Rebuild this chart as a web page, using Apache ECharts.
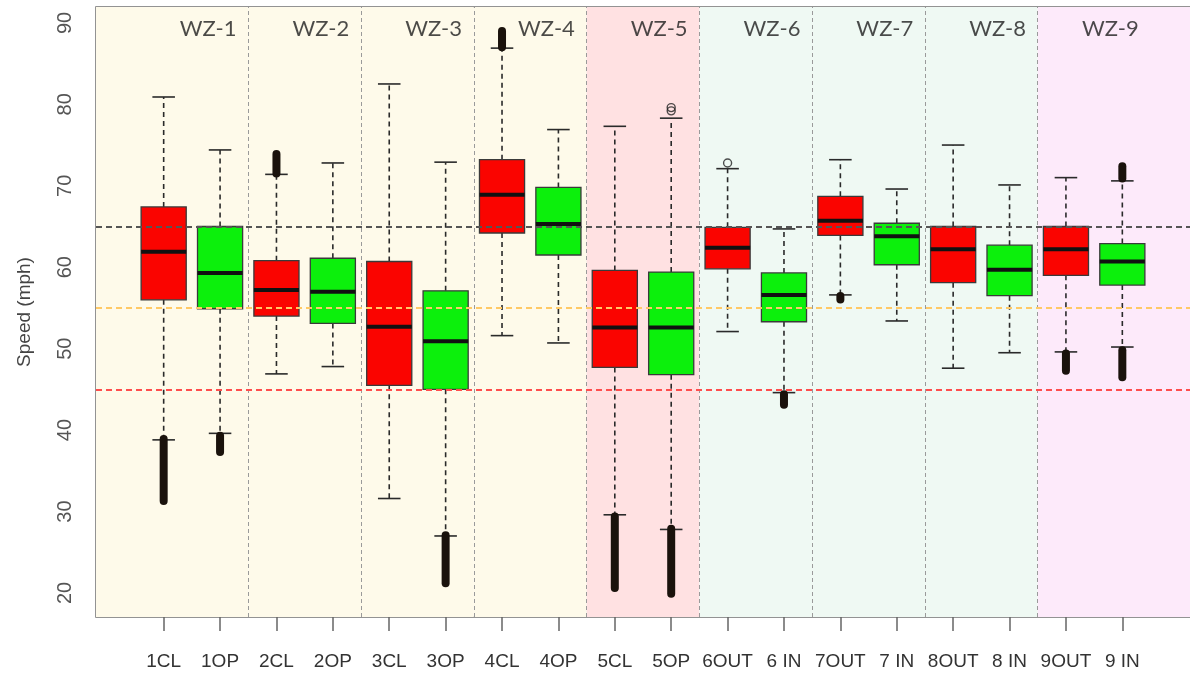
<!DOCTYPE html>
<html>
<head>
<meta charset="utf-8">
<script src="https://cdn.jsdelivr.net/npm/echarts@6/dist/echarts.min.js"></script>
<style>
  html, body { margin: 0; padding: 0; background: #ffffff; }
  #chart { width: 1190px; height: 673px; }
</style>
</head>
<body>
<div id="chart"></div>
<script>
// Site / direction categories along the x axis
const categories = ['1CL', '1OP', '2CL', '2OP', '3CL', '3OP', '4CL', '4OP', '5CL', '5OP',
                    '6OUT', '6 IN', '7OUT', '7 IN', '8OUT', '8 IN', '9OUT', '9 IN'];

// Box statistics per category (mph)
const lowerWhisker = [38.8, 39.6, 46.9, 47.8, 31.6, 27.0, 51.6, 50.7, 29.6, 27.8, 52.1, 44.6, 56.6, 53.4, 47.6, 49.5, 49.6, 50.2];
const quartile1    = [56.0, 54.9, 54.0, 53.1, 45.5, 45.0, 64.2, 61.5, 47.7, 46.8, 59.8, 53.3, 63.9, 60.3, 58.1, 56.5, 59.0, 57.8];
const medians      = [61.9, 59.3, 57.2, 57.0, 52.7, 50.9, 68.9, 65.3, 52.6, 52.6, 62.4, 56.6, 65.7, 63.8, 62.2, 59.7, 62.2, 60.7];
const quartile3    = [67.4, 65.0, 60.8, 61.1, 60.7, 57.1, 73.2, 69.8, 59.6, 59.4, 64.9, 59.3, 68.7, 65.4, 65.0, 62.7, 65.0, 62.9];
const upperWhisker = [80.9, 74.4, 71.4, 72.8, 82.5, 72.9, 86.9, 76.9, 77.3, 78.3, 72.1, 64.7, 73.2, 69.6, 75.0, 70.1, 71.0, 70.6];

// Densely packed outliers: [category, highest, lowest]
const outlierRuns = [
  ['1CL', 38.9, 31.3], ['1OP', 39.3, 37.3], ['2CL', 73.9, 71.5], ['3OP', 27.1, 21.2],
  ['4CL', 89.0, 87.0], ['5CL', 29.4, 20.6], ['5OP', 27.9, 19.9], ['6 IN', 44.4, 43.1],
  ['7OUT', 56.45, 56.05], ['9OUT', 49.4, 47.3], ['9 IN', 72.4, 70.9], ['9 IN', 49.8, 46.5]
];
// Single outliers: [category, value]
const outlierPoints = [['5OP', 79.2], ['5OP', 79.6], ['6OUT', 72.8]];

// Work zones, each spanning two categories
const zoneNames  = ['WZ-1', 'WZ-2', 'WZ-3', 'WZ-4', 'WZ-5', 'WZ-6', 'WZ-7', 'WZ-8', 'WZ-9'];
const zoneColors = ['#fefaea', '#fefaea', '#fefaea', '#fefaea', '#ffe1e2', '#eff9f3', '#eff9f3', '#eff9f3', '#fdeafa'];

// Reference speeds
const refLines = [
  { value: 65, color: '#555555' },
  { value: 55, color: '#ffc966' },
  { value: 45, color: '#ff4d4d' }
];
const yTicks = [20, 30, 40, 50, 60, 70, 80, 90];

const X_MIN = -0.2, X_MAX = 19.2;
const Y_MIN = 17.05, Y_MAX = 91.95;
const ZONE_LABEL_Y = 89.2;
const BOX_WIDTH = 0.8, CAP_WIDTH = 0.4;
const RED = '#fa0400', GREEN = '#0cf00c';

const catIndex = name => categories.indexOf(name) + 1;

const boxData = categories.map((c, i) =>
  [i + 1, lowerWhisker[i], quartile1[i], medians[i], quartile3[i], upperWhisker[i]]);

function renderBox(params, api) {
  const x = api.value(0);
  const pLo = api.coord([x, api.value(1)]);
  const pQ1 = api.coord([x, api.value(2)]);
  const pMd = api.coord([x, api.value(3)]);
  const pQ3 = api.coord([x, api.value(4)]);
  const pHi = api.coord([x, api.value(5)]);
  const hb = api.size([BOX_WIDTH, 0])[0] / 2;
  const hc = api.size([CAP_WIDTH, 0])[0] / 2;
  const cx = pLo[0];
  const fill = params.dataIndex % 2 === 0 ? RED : GREEN;
  const whisker = { stroke: '#2a2a2a', lineWidth: 1.6, lineDash: [5, 4] };
  const cap = { stroke: '#2a2a2a', lineWidth: 1.6 };
  return {
    type: 'group',
    children: [
      { type: 'line', shape: { x1: cx, y1: pQ3[1], x2: cx, y2: pHi[1] }, style: whisker },
      { type: 'line', shape: { x1: cx, y1: pQ1[1], x2: cx, y2: pLo[1] }, style: whisker },
      { type: 'line', shape: { x1: cx - hc, y1: pHi[1], x2: cx + hc, y2: pHi[1] }, style: cap },
      { type: 'line', shape: { x1: cx - hc, y1: pLo[1], x2: cx + hc, y2: pLo[1] }, style: cap },
      { type: 'rect', shape: { x: cx - hb, y: pQ3[1], width: 2 * hb, height: pQ1[1] - pQ3[1] },
        style: { fill: fill, stroke: '#3a3a3a', lineWidth: 1.3 } },
      { type: 'line', shape: { x1: cx - hb, y1: pMd[1], x2: cx + hb, y2: pMd[1] },
        style: { stroke: '#111', lineWidth: 4 } }
    ]
  };
}

function renderRun(params, api) {
  const x = api.value(0);
  const top = api.coord([x, api.value(1)]);
  const bot = api.coord([x, api.value(2)]);
  return {
    type: 'line',
    shape: { x1: top[0], y1: top[1], x2: bot[0], y2: bot[1] },
    style: { stroke: '#1a120c', lineWidth: 8, lineCap: 'round' }
  };
}

// Zone background areas and the dashed dividers between zones
const zoneAreas = zoneNames.map((n, k) => {
  const from = k === 0 ? X_MIN : 2 * k + 0.5;
  const to = k === zoneNames.length - 1 ? X_MAX : 2 * k + 2.5;
  return [{ xAxis: from, itemStyle: { color: zoneColors[k] } }, { xAxis: to }];
});
const dividers = zoneNames.slice(1).map((n, k) => ({ xAxis: 2 * k + 2.5 }));

const option = {
  animation: false,
  backgroundColor: '#ffffff',
  grid: { left: 96, right: 0, top: 7, bottom: 56, show: true, borderColor: '#707070', borderWidth: 1.5 },
  xAxis: {
    type: 'value', min: X_MIN, max: X_MAX,
    splitLine: { show: false },
    axisLine: { show: false },
    axisTick: { show: true, length: 14, customValues: categories.map((c, i) => i + 1),
                lineStyle: { color: '#666', width: 1.5 } },
    axisLabel: {
      customValues: categories.map((c, i) => i + 1),
      formatter: v => categories[Math.round(v) - 1] || '',
      margin: 35, color: '#333', fontSize: 19,
      fontFamily: '"Liberation Sans", Arial, sans-serif'
    }
  },
  yAxis: {
    type: 'value', min: Y_MIN, max: Y_MAX,
    name: 'Speed (mph)', nameLocation: 'middle', nameGap: 62,
    nameTextStyle: { color: '#444', fontSize: 19, fontFamily: '"Liberation Sans", Arial, sans-serif' },
    splitLine: { show: false },
    axisLine: { show: false },
    axisTick: { show: true, length: 10, customValues: yTicks, lineStyle: { color: '#666', width: 1.5 } },
    axisLabel: { customValues: yTicks, rotate: 90, margin: 21, color: '#555', fontSize: 20,
                 fontFamily: '"Liberation Sans", Arial, sans-serif' }
  },
  series: [
    {
      type: 'custom', name: 'boxes',
      renderItem: renderBox,
      encode: { x: 0, y: [1, 2, 3, 4, 5] },
      data: boxData,
      z: 3,
      markArea: { silent: true, data: zoneAreas, z: 1 },
      markLine: {
        silent: true, symbol: 'none', label: { show: false }, z: 2,
        lineStyle: { color: '#9a9a9a', width: 1, type: [4, 3] },
        data: dividers
      }
    },
    {
      type: 'custom', name: 'outlier runs',
      renderItem: renderRun,
      encode: { x: 0, y: [1, 2] },
      data: outlierRuns.map(r => [catIndex(r[0]), r[1], r[2]]),
      z: 4
    },
    {
      type: 'scatter', name: 'outliers',
      symbol: 'circle', symbolSize: 8,
      itemStyle: { color: 'rgba(0,0,0,0)', borderColor: '#222', borderWidth: 1.4 },
      data: outlierPoints.map(p => [catIndex(p[0]), p[1]]),
      z: 4,
      markLine: {
        silent: true, symbol: 'none', label: { show: false }, z: 6,
        data: refLines.map(r => ({ yAxis: r.value, lineStyle: { color: r.color, width: 2, type: [6, 4] } }))
      }
    },
    {
      type: 'scatter', name: 'zones',
      symbolSize: 0, silent: true, z: 7,
      data: zoneNames.map((n, k) => ({ value: [2 * k + 2, ZONE_LABEL_Y], name: n })),
      label: {
        show: true, position: 'inside', offset: [-12, 0],
        formatter: p => p.name,
        color: '#1e1e1e', fontSize: 22, fontFamily: 'Lato, "Open Sans", sans-serif'
      }
    }
  ]
};

const chart = echarts.init(document.getElementById('chart'), null, { renderer: 'canvas' });
chart.setOption(option);
</script>
</body>
</html>
